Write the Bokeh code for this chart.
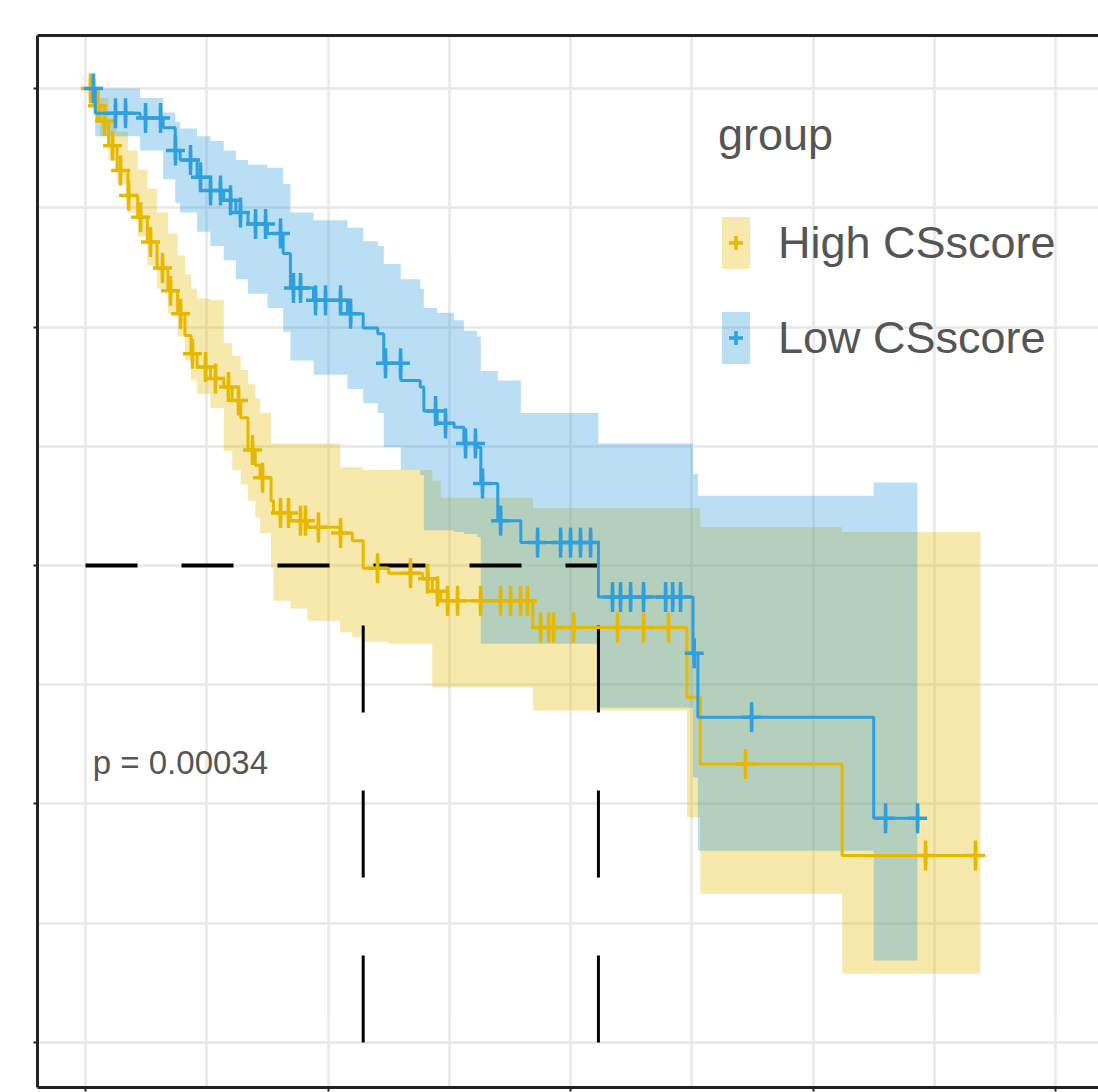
import numpy as np
from bokeh.plotting import figure
from bokeh.models import Range1d, FixedTicker, LinearAxis, Legend, LegendItem, Label
from bokeh.embed import file_html
from bokeh.resources import INLINE

# ---------------- data ----------------
group_title = "group"
group_labels = ["High CSscore", "Low CSscore"]
group_colors = ["#E7B800", "#2E9FDF"]
p_text = "p = 0.00034"

high_time = [0.00, 0.08, 0.12, 0.19, 0.26, 0.35, 0.43, 0.51, 0.59, 0.68, 0.76, 0.82, 0.87, 0.92,
             1.03, 1.14, 1.21, 1.28, 1.34, 1.40, 1.44, 1.53, 1.55, 1.69, 1.83, 2.10, 2.20, 2.29,
             2.50, 2.78, 2.86, 2.93, 3.69, 4.96, 5.07, 6.24]
high_surv = [1.000, 0.982, 0.966, 0.940, 0.914, 0.888, 0.865, 0.839, 0.812, 0.788, 0.764, 0.741,
             0.722, 0.708, 0.696, 0.687, 0.673, 0.655, 0.621, 0.605, 0.592, 0.568, 0.555, 0.547,
             0.540, 0.534, 0.526, 0.497, 0.492, 0.486, 0.473, 0.463, 0.435, 0.362, 0.292, 0.196]
high_upper = [1.000, 1.000, 0.990, 0.970, 0.955, 0.935, 0.915, 0.895, 0.870, 0.848, 0.825, 0.805,
              0.790, 0.780, 0.778, 0.733, 0.720, 0.705, 0.690, 0.675, 0.660, 0.628, 0.628, 0.628,
              0.628, 0.603, 0.603, 0.600, 0.600, 0.600, 0.589, 0.571, 0.560, 0.560, 0.540, 0.535]
high_lower = [1.000, 0.970, 0.950, 0.925, 0.900, 0.870, 0.845, 0.815, 0.790, 0.765, 0.740, 0.715,
              0.695, 0.680, 0.665, 0.620, 0.600, 0.585, 0.568, 0.550, 0.534, 0.498, 0.463, 0.455,
              0.442, 0.430, 0.425, 0.420, 0.418, 0.418, 0.372, 0.372, 0.348, 0.236, 0.156, 0.072]
high_end = 7.38
high_censor = [0.041, 0.099, 0.157, 0.223, 0.289, 0.355, 0.454, 0.536, 0.635, 0.701, 0.784, 0.882,
               0.990, 1.072, 1.179, 1.262, 1.377, 1.460, 1.608, 1.674, 1.773, 1.814, 1.921, 2.103,
               2.408, 2.680, 2.821, 2.903, 2.986, 3.068, 3.258, 3.423, 3.505, 3.588, 3.645, 3.753,
               3.819, 3.860, 4.025, 4.388, 4.602, 4.808, 5.443, 6.928, 7.340]

low_time = [0.00, 0.08, 0.45, 0.64, 0.74, 0.78, 0.92, 1.03, 1.14, 1.24, 1.34, 1.50, 1.63, 1.69,
            1.88, 2.16, 2.29, 2.41, 2.46, 2.60, 2.76, 2.79, 2.90, 3.04, 3.12, 3.23, 3.26, 3.40,
            3.59, 4.23, 5.01, 5.05, 6.50]
low_surv = [1.000, 0.974, 0.969, 0.959, 0.935, 0.925, 0.907, 0.893, 0.883, 0.870, 0.858, 0.848,
            0.827, 0.791, 0.778, 0.764, 0.749, 0.743, 0.712, 0.694, 0.687, 0.662, 0.649, 0.645,
            0.628, 0.624, 0.586, 0.547, 0.524, 0.467, 0.408, 0.341, 0.235]
low_upper = [1.000, 1.000, 0.990, 0.975, 0.965, 0.958, 0.950, 0.945, 0.935, 0.925, 0.920, 0.917,
             0.900, 0.870, 0.862, 0.854, 0.840, 0.835, 0.816, 0.800, 0.790, 0.770, 0.765, 0.757,
             0.746, 0.740, 0.704, 0.694, 0.660, 0.628, 0.596, 0.573, 0.587]
low_lower = [1.000, 0.950, 0.935, 0.905, 0.880, 0.870, 0.850, 0.835, 0.820, 0.800, 0.785, 0.770,
             0.745, 0.715, 0.700, 0.685, 0.670, 0.660, 0.624, 0.600, 0.595, 0.537, 0.537, 0.535,
             0.533, 0.530, 0.418, 0.418, 0.418, 0.351, 0.278, 0.201, 0.086]
low_end = 6.86
low_censor = [0.066, 0.247, 0.330, 0.495, 0.619, 0.742, 0.866, 0.948, 1.031, 1.113, 1.196, 1.278,
              1.402, 1.485, 1.608, 1.715, 1.773, 1.897, 1.979, 2.103, 2.186, 2.474, 2.598, 2.887,
              2.969, 3.134, 3.216, 3.274, 3.423, 3.728, 3.918, 4.000, 4.082, 4.165, 4.346, 4.412,
              4.495, 4.602, 4.784, 4.842, 4.907, 5.020, 5.493, 6.598, 6.862]

x_major = [0, 2, 4, 6, 8]
x_minor = [1, 3, 5, 7]
y_major = [0.0, 0.25, 0.5, 0.75, 1.0]
y_minor = [0.125, 0.375, 0.625, 0.875]

# ---------------- helpers ----------------
def step_value(times, surv, t):
    i = np.searchsorted(np.asarray(times), np.asarray(t), side="right") - 1
    return np.asarray(surv)[i]


def median_time(times, surv):
    for t, s in zip(times, surv):
        if s <= 0.5:
            return t
    return None


FONT = "Liberation Sans"
TEXT_COLOR = "#555555"
FRAME_COLOR = "#222222"
GRID_COLOR = "#e8e8e8"

p = figure(width=1098, height=1092,
           x_range=Range1d(-0.396, 8.354), y_range=Range1d(-0.0472, 1.0556),
           output_backend="svg", toolbar_location=None,
           min_border_left=37, min_border_right=0, min_border_top=35, min_border_bottom=5)
p.outline_line_color = None
p.background_fill_color = "white"
p.border_fill_color = "white"

for ax, maj, mnr in ((p.xaxis, x_major, x_minor), (p.yaxis, y_major, y_minor)):
    ax.ticker = FixedTicker(ticks=maj, minor_ticks=mnr)
    ax.major_label_overrides = {v: "" for v in maj}
    ax.major_label_text_font_size = "10px"
    ax.major_label_standoff = 0
    ax.axis_line_width = 3
    ax.axis_line_color = FRAME_COLOR
    ax.major_tick_line_color = FRAME_COLOR
    ax.major_tick_line_width = 2
    ax.major_tick_out = 4
    ax.major_tick_in = 0
    ax.minor_tick_line_color = None

top_axis = LinearAxis(ticker=FixedTicker(ticks=[]), axis_line_width=3, axis_line_color=FRAME_COLOR,
                      major_tick_line_color=None, minor_tick_line_color=None,
                      major_label_text_font_size="10px")
p.add_layout(top_axis, "above")

for g in (p.xgrid, p.ygrid):
    g.grid_line_color = GRID_COLOR
    g.grid_line_width = 2.5
    g.minor_grid_line_color = GRID_COLOR
    g.minor_grid_line_width = 2.5

groups = [
    (high_time, high_surv, high_upper, high_lower, high_end, high_censor),
    (low_time, low_surv, low_upper, low_lower, low_end, low_censor),
]

band_renderers = []
for (t, s, up, lo, end, cens), col in zip(groups, group_colors):
    tx = list(t) + [end]
    r = p.varea_step(x=tx, y1=list(lo) + [lo[-1]], y2=list(up) + [up[-1]], step_mode="after",
                     fill_color=col, fill_alpha=0.33)
    band_renderers.append(r)

# median lines
meds = [median_time(g[0], g[1]) for g in groups]
p.segment(x0=[0], y0=[0.5], x1=[max(meds)], y1=[0.5], line_color="black", line_width=4,
          line_dash="52 44")
p.segment(x0=meds, y0=[0, 0], x1=meds, y1=[0.5, 0.5], line_color="black", line_width=3,
          line_dash="87 78")

legend_items = []
for (t, s, up, lo, end, cens), col, lab, br in zip(groups, group_colors, group_labels, band_renderers):
    tx = list(t) + [end]
    sy = list(s) + [s[-1]]
    p.step(x=tx, y=sy, mode="after", line_color=col, line_width=3)
    cy = step_value(t, s, cens)
    rc = p.scatter(x=cens, y=cy, marker="cross", size=19, line_color=col, line_width=3.5)
    p.scatter(x=cens, y=cy, marker="dash", size=30, angle=np.pi / 2, line_color=col,
              line_width=3.5)
    legend_items.append(LegendItem(label=lab, renderers=[br, rc]))

p.add_layout(Label(x=0.06, y=0.2935, text=p_text, text_font=FONT, text_font_size="33px",
                   text_color=TEXT_COLOR, text_baseline="alphabetic"))

legend = Legend(items=legend_items, title=group_title, location=(681, 702),
                title_text_font=FONT, title_text_font_size="45px", title_text_font_style="normal",
                title_text_color=TEXT_COLOR, title_standoff=34,
                label_text_font=FONT, label_text_font_size="45px", label_text_color=TEXT_COLOR,
                glyph_width=35, glyph_height=65, label_height=95, label_standoff=25,
                spacing=0, padding=0, margin=0, border_line_color=None,
                background_fill_alpha=0)
p.add_layout(legend)

open("out.html", "w").write(file_html(p, INLINE))
